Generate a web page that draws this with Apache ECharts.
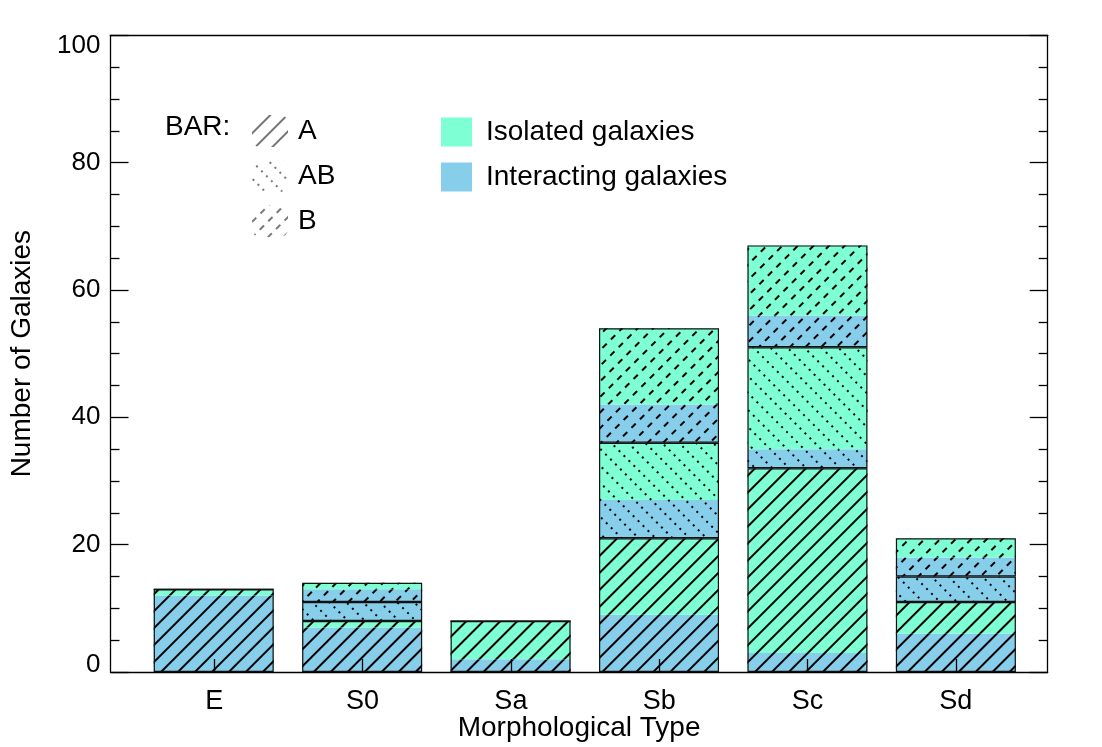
<!DOCTYPE html>
<html>
<head>
<meta charset="utf-8">
<script src="https://cdn.jsdelivr.net/npm/echarts@6/dist/echarts.min.js"></script>
<style>
html,body{margin:0;padding:0;background:#fff;}
#chart{width:1102px;height:747px;}
</style>
</head>
<body>
<div id="chart"></div>
<script>
// ---- data ----
const categories = ['E', 'S0', 'Sa', 'Sb', 'Sc', 'Sd'];
const xPositions = [0, 1, 2, 3, 4, 5];
const A_interacting  = [12, 7, 2, 9, 3, 6];
const A_isolated     = [1, 1, 6, 12, 29, 5];
const AB_interacting = [0, 3, 0, 6, 3, 4];
const AB_isolated    = [0, 0, 0, 9, 16, 0];
const B_interacting  = [0, 2, 0, 6, 5, 3];
const B_isolated     = [0, 1, 0, 12, 11, 3];
const yTicks = [0, 20, 40, 60, 80, 100];

// ---- styles ----
const FONT = 'Liberation Sans';
const ISO = '#7FFFD4';
const INT = '#87CEEB';
const decalA  = { symbol: 'rect', dashArrayX: [1, 0], dashArrayY: [1.2, 9.4], rotation: -Math.PI / 4, color: '#000' };
const decalAB = { symbol: 'rect', dashArrayX: [1.4, 4.3], dashArrayY: [1.4, 9.2], rotation: Math.PI / 4, color: '#000' };
const decalB  = { symbol: 'rect', dashArrayX: [6, 6], dashArrayY: [1.3, 9], rotation: -Math.PI / 4, color: '#000' };
const legDecal = d => Object.assign({}, d, { color: '#777' });

const sum = (a, b) => a.map((v, i) => v + b[i]);

function seg(name, arr, color, decal) {
  return {
    name: name, type: 'bar', stack: 'main', barWidth: 120, barGap: '-100%',
    xAxisIndex: 2, yAxisIndex: 2,
    data: arr, silent: true, z: 2,
    itemStyle: { color: color, decal: decal, borderWidth: 0 }
  };
}
function outline(name, arr) {
  return {
    name: name, type: 'bar', stack: 'outline', barWidth: 120, barGap: '-100%',
    xAxisIndex: 2, yAxisIndex: 2,
    data: arr, silent: true, z: 3,
    itemStyle: { color: 'rgba(0,0,0,0)', borderColor: '#111', borderWidth: 1.2 }
  };
}
function dummy(name, color, decal) {
  return {
    name: name, type: 'bar', stack: 'main', barWidth: 120, barGap: '-100%',
    xAxisIndex: 2, yAxisIndex: 2, data: [],
    itemStyle: decal ? { color: color, decal: decal, borderWidth: 0 } : { color: color, borderWidth: 0 }
  };
}

const chart = echarts.init(document.getElementById('chart'));
const xMin = -0.7, xMax = 5.62;
const axisLine = { show: true, onZero: false, lineStyle: { color: '#000', width: 1.3 } };
const tickStyle = { color: '#000', width: 1.3 };
const labelFont = { fontFamily: FONT, fontSize: 26, color: '#000' };
const yMin = yTicks[0], yMax = yTicks[yTicks.length - 1];

const option = {
  animation: false,
  backgroundColor: '#fff',
  textStyle: { fontFamily: FONT },
  title: {
    text: 'BAR:', left: 160, top: 108,
    textStyle: { fontFamily: FONT, fontSize: 28, fontWeight: 'normal', color: '#000' }
  },
  grid: [
    { left: 110.5, right: 54.3, top: 35.3, bottom: 75, containLabel: false, outerBoundsMode: 'none' },
    { left: 139.5, right: 71.9, top: 35.3, bottom: 75, containLabel: false, outerBoundsMode: 'none' }
  ],
  legend: [
    {
      data: ['A', 'AB', 'B'], orient: 'vertical', left: 252, top: 115, padding: 0,
      itemWidth: 36, itemHeight: 32, itemGap: 13, selectedMode: false,
      textStyle: { fontFamily: FONT, fontSize: 28, color: '#000', padding: [0, 0, 0, 5] }
    },
    {
      data: ['Isolated galaxies', 'Interacting galaxies'], orient: 'vertical', left: 441, top: 117.5, padding: 0,
      itemWidth: 31, itemHeight: 29, itemGap: 16, selectedMode: false, icon: 'rect',
      textStyle: { fontFamily: FONT, fontSize: 28, color: '#000', padding: [0, 0, 0, 9] }
    }
  ],
  xAxis: [
    {
      gridIndex: 0, type: 'value', position: 'bottom', min: xMin, max: xMax, z: 10,
      name: 'Morphological Type', nameLocation: 'middle', nameGap: 42, nameMoveOverlap: false,
      nameTextStyle: { fontFamily: FONT, fontSize: 28, color: '#000' },
      axisLine: axisLine,
      axisTick: { show: true, inside: true, length: 13, customValues: xPositions, lineStyle: tickStyle },
      axisLabel: { show: true, margin: 16, customValues: xPositions, formatter: v => categories[Math.round(v)],
        fontFamily: FONT, fontSize: 27, color: '#000' },
      splitLine: { show: false }
    },
    {
      gridIndex: 0, type: 'value', position: 'top', min: xMin, max: xMax, z: 10,
      axisLine: axisLine, axisTick: { show: false }, axisLabel: { show: false }, splitLine: { show: false }
    },
    {
      gridIndex: 1, type: 'category', data: categories, boundaryGap: true, show: false
    }
  ],
  yAxis: [
    {
      gridIndex: 0, type: 'value', position: 'left', min: yMin, max: yMax, interval: 20, z: 10,
      name: 'Number of Galaxies', nameLocation: 'middle', nameGap: 74, nameMoveOverlap: false,
      nameTextStyle: { fontFamily: FONT, fontSize: 28, color: '#000' },
      axisLine: axisLine,
      axisTick: { show: true, inside: true, length: 18, lineStyle: tickStyle },
      minorTick: { show: true, splitNumber: 4, length: 9, lineStyle: tickStyle },
      axisLabel: Object.assign({
        show: true, margin: 10,
        formatter: v => (v === yMin ? '{lo|' + v + '}' : v === yMax ? '{hi|' + v + '}' : String(v)),
        rich: {
          lo: Object.assign({ padding: [0, 0, 14, 0] }, labelFont),
          hi: Object.assign({ padding: [22, 0, 0, 0] }, labelFont)
        }
      }, labelFont),
      splitLine: { show: false }, minorSplitLine: { show: false }
    },
    {
      gridIndex: 0, type: 'value', position: 'right', min: yMin, max: yMax, interval: 20, z: 10,
      axisLine: axisLine,
      axisTick: { show: true, inside: true, length: 18, lineStyle: tickStyle },
      minorTick: { show: true, splitNumber: 4, length: 9, lineStyle: tickStyle },
      axisLabel: { show: false },
      splitLine: { show: false }, minorSplitLine: { show: false }
    },
    {
      gridIndex: 1, type: 'value', min: yMin, max: yMax, show: false,
      splitLine: { show: false }
    }
  ],
  series: [
    seg('A interacting', A_interacting, INT, decalA),
    seg('A isolated', A_isolated, ISO, decalA),
    seg('AB interacting', AB_interacting, INT, decalAB),
    seg('AB isolated', AB_isolated, ISO, decalAB),
    seg('B interacting', B_interacting, INT, decalB),
    seg('B isolated', B_isolated, ISO, decalB),
    dummy('A', '#fff', legDecal(decalA)),
    dummy('AB', '#fff', legDecal(decalAB)),
    dummy('B', '#fff', legDecal(decalB)),
    dummy('Isolated galaxies', ISO, null),
    dummy('Interacting galaxies', INT, null),
    outline('A outline', sum(A_interacting, A_isolated)),
    outline('AB outline', sum(AB_interacting, AB_isolated)),
    outline('B outline', sum(B_interacting, B_isolated))
  ]
};
chart.setOption(option);
</script>
</body>
</html>
